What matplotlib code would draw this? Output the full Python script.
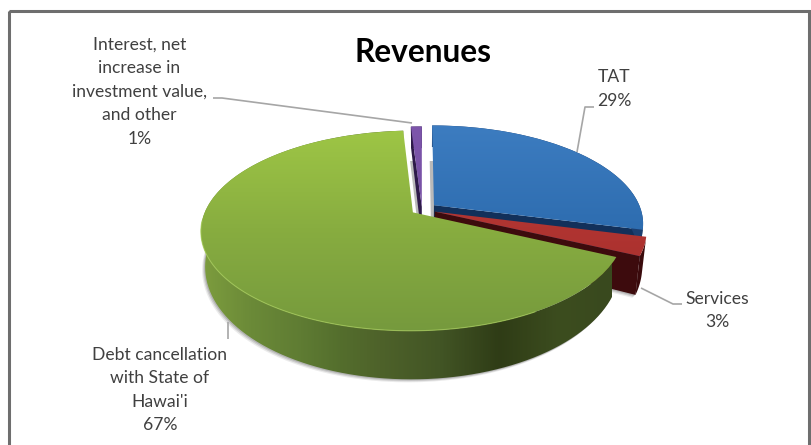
import numpy as np
import matplotlib
matplotlib.use("Agg")
import matplotlib.pyplot as plt
from matplotlib.colors import LinearSegmentedColormap as LSC
from matplotlib.patches import Polygon, Rectangle, Wedge
from matplotlib.transforms import Transform

categories = ["TAT", "Services", "Debt cancellation\nwith State of\nHawai'i", "Interest, net\nincrease in\ninvestment value,\nand other"]
shares = [29, 3, 67, 1]
pct_labels = ["29%", "3%", "67%", "1%"]
explode = [0.0736, 0.065, 0.053, 0.03]

face_grad = [["#3d7dc1", "#2e6db0", "#2f5e9a"], ["#bd3c38", "#b03431", "#a02c2a"],
             ["#a0c846", "#88ad40", "#75993d"], ["#7d55ab", "#7650a4", "#6f4a9c"]]
cut_colors = ["#12305a", "#3d0b0d", "#2f3d16", "#2e1a4a"]
arc_colors = ["#1c3f70", "#3a0a0c", None, "#2e1a4a"]
green_wall_x = [200, 250, 300, 340, 380, 440, 500, 560, 612]
green_wall_c = ["#7d9d3e", "#6b8a38", "#5f7c33", "#546e2d", "#4e622a", "#425525", "#2f3c16", "#3c4d1f", "#39491e"]


class Tilt(Transform):
    """Projects the flat pie disk onto the picture with a tilted perspective."""
    input_dims = output_dims = 2
    is_separable = False
    has_inverse = False

    def __init__(self, cx, cy, rx, b, k=0.182):
        super().__init__()
        self.p = (cx, cy, rx, b, k)

    def transform_non_affine(self, xy):
        xy = np.asarray(xy, float)
        cx, cy, rx, b, k = self.p
        s = 1 / (1 + k * xy[:, 1])
        return np.column_stack([cx + rx * xy[:, 0] * s, cy - b * xy[:, 1] * s])


top = Tilt(422, 209.5, 207, 95.7)
bot = Tilt(422, 242.1, 203, 108.3)

fig = plt.figure(figsize=(8.12, 4.45), dpi=100, facecolor="white")
ax = fig.add_axes([0, 0, 1, 1])
wedges, _ = ax.pie(shares, explode=explode, startangle=90, counterclock=False, radius=1.0)
ax.set_aspect("auto")
ax.axis("off")


def arc(w, tr, a, b_, n=120):
    th = np.radians(np.linspace(a, b_, n))
    pts = np.column_stack([w.center[0] + w.r * np.cos(th), w.center[1] + w.r * np.sin(th)])
    return tr.transform_non_affine(pts)


def apex(w, tr):
    return tr.transform_non_affine(np.array([w.center]))


def vgrad(colors, ext, z, clip):
    cm = LSC.from_list("g", colors)
    im = ax.imshow(np.linspace(0, 1, 128)[:, None], cmap=cm, extent=ext, aspect="auto", origin="upper", zorder=z)
    im.set_clip_path(clip)
    return im


blue, red, green, purple = wedges
for w in wedges:
    w.set_visible(False)

# soft shadows under the solid
for dx, dy, a in [(-3, 3, 0.12), (-2, 2, 0.2), (-1, 1, 0.25)]:
    for w in (green, red):
        p = np.vstack([apex(w, bot), arc(w, bot, w.theta1, w.theta2)]) + [dx, dy]
        ax.add_patch(Polygon(p, fc="#606060", ec="none", alpha=a, zorder=1))
shadow_clip = Rectangle((380, 161), 70, 60, transform=ax.transData)
for w in (blue, purple):
    p = np.vstack([apex(w, bot), arc(w, bot, w.theta1, w.theta2)]) + [-2.5, 0]
    s = Polygon(p, fc="#a8a8a8", ec="none", alpha=0.8, zorder=1)
    ax.add_patch(s)
    s.set_clip_path(shadow_clip)

z = 2
for i, w in zip([3, 0, 1, 2], [purple, blue, red, green]):
    t1, t2 = w.theta1, w.theta2
    # cut faces: the one looking at the viewer
    for th in ([t1] if i in (0, 1) else [t2] if i == 3 else []):
        r_t = arc(w, top, th, th, 1)
        r_b = arc(w, bot, th, th, 1)
        ax.add_patch(Polygon(np.vstack([apex(w, top), r_t, r_b, apex(w, bot)]),
                             fc=cut_colors[i], ec="none", zorder=z))
    # outer wall
    a_t, a_b = arc(w, top, t1, t2), arc(w, bot, t1, t2)
    wall = Polygon(np.vstack([a_t, a_b[::-1]]), fc=arc_colors[i] or "none", ec="none", zorder=z)
    ax.add_patch(wall)
    if arc_colors[i] is None:
        xs = np.linspace(0, 1, 300)
        nodes = (np.array(green_wall_x) - 200) / 412
        cm = LSC.from_list("w", list(zip(nodes, green_wall_c)))
        im = ax.imshow(xs[None, :], cmap=cm, extent=(200, 612, 400, 120), aspect="auto", zorder=z)
        im.set_clip_path(wall)
    # top face
    wt = Wedge(w.center, w.r, t1, t2, fc="none", ec="none", zorder=z + 1)
    wt.set_transform(top + ax.transData)
    ax.add_patch(wt)
    vgrad(face_grad[i], (190, 660, 335, 120), z + 1, wt)
    z += 2

# highlight on the front rim
p = arc(green, top, 185, 300)
ax.plot(p[:, 0], p[:, 1], color="#a9d05a", lw=0.8, alpha=0.7, zorder=z)

# leader lines
leaders = [([213, 222, 412], [98, 98, 123]), ([594, 585, 577], [107, 107, 152]),
           ([682, 673, 641], [304, 304, 288]), ([228, 228], [322, 339])]
for lx, ly in leaders:
    ax.plot(lx, ly, color="#a6a6a6", lw=1.2, zorder=z + 1, solid_capstyle="butt")

# labels
font = "Lato"
tc = "#404040"
ax.text(423, 53, "Revenues", ha="center", va="center", fontsize=22.8, fontweight="bold", family=font, color="black", zorder=z + 2)
pos = [(614, [77]), (717, [299]), (160, [355, 378, 402]), (139.5, [45, 68, 92, 115])]
pct_y = [101, 322, 425, 139]
for c, (x, ys), pc, py in zip(categories, pos, pct_labels, pct_y):
    for line, y in zip(c.split("\n"), ys):
        ax.text(x, y, line, ha="center", va="center", fontsize=12.6, family=font, color=tc, zorder=z + 2)
    ax.text(x, py, pc, ha="center", va="center", fontsize=12.6, family=font, color=tc, zorder=z + 2)

# chart frame (runs off the bottom of the crop)
ax.add_patch(Rectangle((9.5, 11), 799.5, 460, fc="none", ec="#6e6e6e", lw=2.2, zorder=z + 3))

ax.set_xlim(0, 812)
ax.set_ylim(445, 0)
fig.savefig("out.png", dpi=100)
